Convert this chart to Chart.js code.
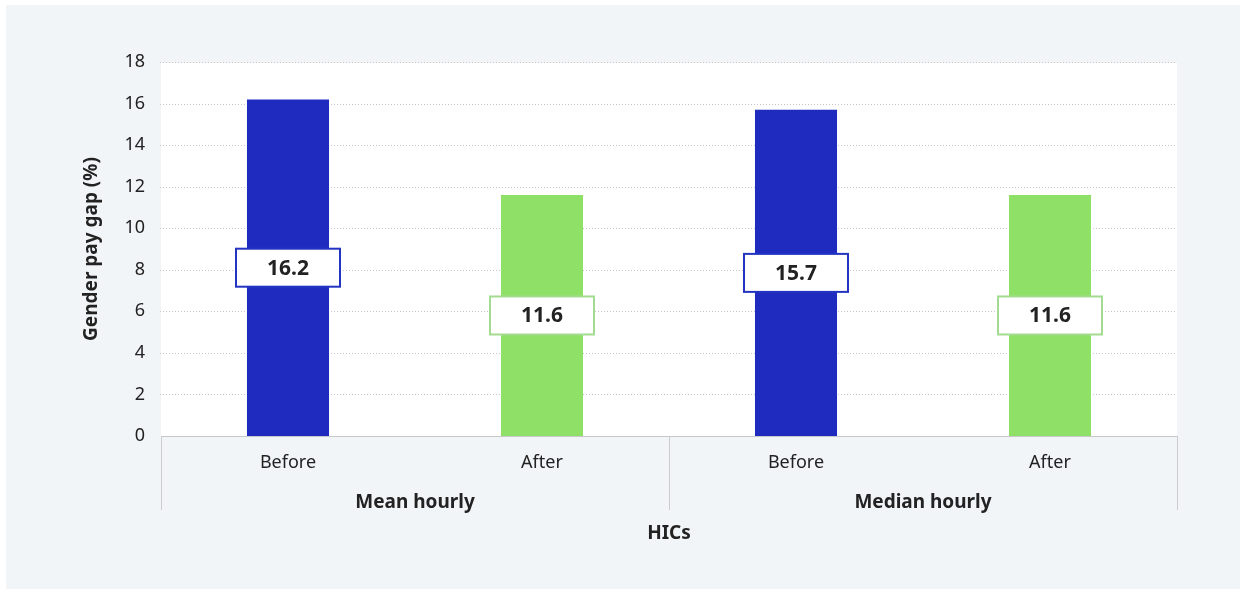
<!DOCTYPE html>
<html>
<head>
<meta charset="utf-8">
<script src="https://cdn.jsdelivr.net/npm/chart.js@4.4.1/dist/chart.umd.min.js"></script>
<style>
  html, body { margin: 0; padding: 0; background: #ffffff; }
  #wrap { position: absolute; left: 6px; top: 5px; width: 1234px; height: 584px; background: #f2f5f8; }
  canvas { display: block; }
</style>
</head>
<body>
<div id="wrap"><canvas id="c" width="1234" height="584"></canvas></div>
<script>
const categories = ['Before', 'After', 'Before', 'After'];
const groups = ['Mean hourly', 'Median hourly'];
const groupSize = 2;
const values = [16.2, 11.6, 15.7, 11.6];
const barColors = ['#1f2bbf', '#8fe066', '#1f2bbf', '#8fe066'];
const labelBorders = ['#2334c2', '#a3db90', '#2334c2', '#a3db90'];
const yTicks = [0, 2, 4, 6, 8, 10, 12, 14, 16, 18];
const xTitle = 'HICs';
const yTitle = 'Gender pay gap (%)';

const FONT = '"Noto Sans", "Open Sans", sans-serif';
const TEXT = '#222222';

const decor = {
  id: 'decor',
  beforeDraw(chart) {
    const { ctx, chartArea: a } = chart;
    ctx.save();
    ctx.fillStyle = '#ffffff';
    ctx.fillRect(a.left, a.top + 1, a.right - a.left, a.bottom - a.top - 1);
    ctx.restore();
  },
  beforeDatasetsDraw(chart) {
    const { ctx, chartArea: a, scales } = chart;
    const ys = scales.y;
    ctx.save();
    ctx.strokeStyle = '#c6c6c6';
    ctx.lineWidth = 1;
    ctx.setLineDash([1, 2]);
    yTicks.forEach(v => {
      if (v === 0) return;
      const y = Math.round(ys.getPixelForValue(v)) + 0.5;
      ctx.beginPath();
      ctx.moveTo(a.left - 1, y);
      ctx.lineTo(a.right, y);
      ctx.stroke();
    });
    ctx.restore();
  },
  afterDraw(chart) {
    const { ctx, chartArea: a, scales } = chart;
    ctx.save();
    // group separators
    ctx.strokeStyle = '#cccccc';
    ctx.lineWidth = 1;
    const nG = groups.length;
    const step = (a.right - a.left) / categories.length;
    for (let g = 0; g <= nG; g++) {
      const x = Math.round(a.left + g * groupSize * step) + 0.5;
      ctx.beginPath();
      ctx.moveTo(x, a.bottom);
      ctx.lineTo(x, a.bottom + 74);
      ctx.stroke();
    }
    // group labels
    ctx.fillStyle = TEXT;
    ctx.font = 'bold 19px ' + FONT;
    ctx.textAlign = 'center';
    ctx.textBaseline = 'middle';
    groups.forEach((g, i) => {
      const x0 = a.left + i * groupSize * step;
      const x1 = x0 + groupSize * step;
      ctx.fillText(g, (x0 + x1) / 2, a.bottom + 67);
    });
    // x axis title
    ctx.fillText(xTitle, (a.left + a.right) / 2, a.bottom + 98);
    // y axis title
    ctx.save();
    ctx.translate(86, (a.top + a.bottom) / 2);
    ctx.rotate(-Math.PI / 2);
    ctx.fillText(yTitle, 0, 0);
    ctx.restore();
    // value labels
    const meta = chart.getDatasetMeta(0);
    const ys = scales.y;
    ctx.font = 'bold 21px ' + FONT;
    meta.data.forEach((bar, i) => {
      const v = values[i];
      const cx = bar.x;
      const cy = ys.getPixelForValue(v / 2);
      const w = 104, h = 38;
      ctx.fillStyle = '#ffffff';
      ctx.fillRect(cx - w / 2, cy - h / 2, w, h);
      ctx.strokeStyle = labelBorders[i];
      ctx.lineWidth = 2;
      ctx.strokeRect(cx - w / 2, cy - h / 2, w, h);
      ctx.fillStyle = TEXT;
      ctx.fillText(v.toFixed(1), cx, cy + 1);
    });
    ctx.restore();
  }
};

new Chart(document.getElementById('c'), {
  type: 'bar',
  data: {
    labels: categories,
    datasets: [{
      data: values,
      backgroundColor: barColors,
      borderWidth: 0,
      barPercentage: 0.323,
      categoryPercentage: 1.0
    }]
  },
  options: {
    responsive: false,
    animation: false,
    events: [],
    layout: { padding: { top: 57, right: 63, left: 0, bottom: 0 } },
    plugins: { legend: { display: false }, tooltip: { enabled: false } },
    scales: {
      x: {
        grid: { display: false, drawTicks: false },
        border: { display: true, color: '#c8c8c8', width: 1 },
        ticks: { color: TEXT, font: { family: FONT, size: 18 }, padding: 16, maxRotation: 0 },
        afterFit(s) { s.height = 153; }
      },
      y: {
        min: 0, max: 18,
        afterBuildTicks(s) { s.ticks = yTicks.map(v => ({ value: v })); },
        grid: { display: false, drawTicks: false },
        border: { display: false },
        ticks: { color: TEXT, font: { family: FONT, size: 18 }, padding: 16 },
        title: { display: false },
        afterFit(s) { s.width = 155; }
      }
    }
  },
  plugins: [decor]
});
</script>
</body>
</html>
